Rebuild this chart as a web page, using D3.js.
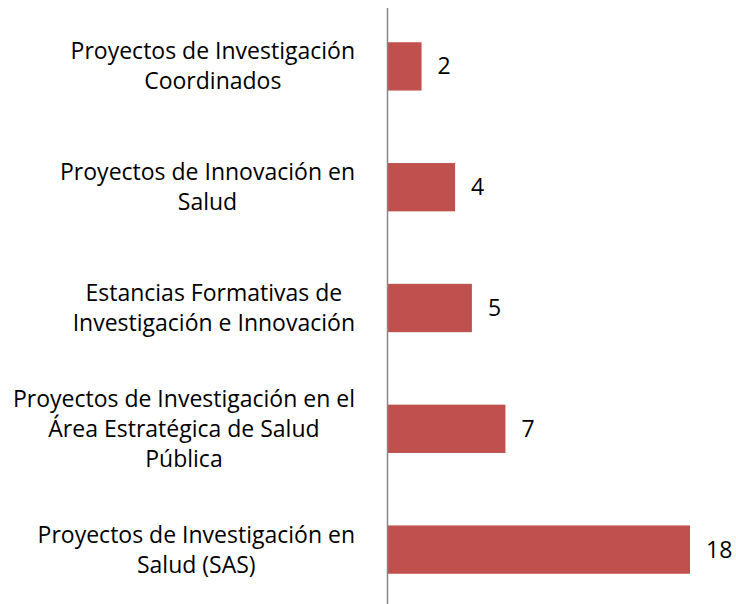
<!DOCTYPE html>
<html><head><meta charset="utf-8">
<script src="https://cdn.jsdelivr.net/npm/d3@7"></script>
<style>html,body{margin:0;padding:0;background:#fff;} svg{display:block;}</style>
</head><body>
<script>
const categories = [
  ["Proyectos de Investigación", "Coordinados"],
  ["Proyectos de Innovación en", "Salud"],
  ["Estancias Formativas de", "Investigación e Innovación"],
  ["Proyectos de Investigación en el", "Área Estratégica de Salud", "Pública"],
  ["Proyectos de Investigación en", "Salud (SAS)"]
];
const values = [2, 4, 5, 7, 18];

const W = 736, H = 604;
const svg = d3.select("body").append("svg").attr("width", W).attr("height", H);
const font = "'Open Sans', sans-serif";
const fs = 23;

const idx = d3.range(values.length);
const y = d3.scaleBand().domain(idx).range([6, 610]).paddingInner(0.6).paddingOuter(0.3);
const x = d3.scaleLinear().domain([0, 18]).range([388, 690]);

svg.selectAll("rect.bar").data(idx).join("rect")
  .attr("x", x(0)).attr("y", i => y(i))
  .attr("width", i => x(values[i]) - x(0)).attr("height", y.bandwidth())
  .attr("fill", "#C0504D");

svg.append("line").attr("x1", 387.5).attr("x2", 387.5).attr("y1", 8).attr("y2", H)
  .attr("stroke", "#868686").attr("stroke-width", 1.5);

svg.selectAll("text.val").data(idx).join("text")
  .attr("x", i => x(values[i]) + 16).attr("y", i => y(i) + y.bandwidth() / 2)
  .attr("dy", "0.35em").attr("font-family", font).attr("font-size", fs).attr("fill", "#000")
  .text(i => values[i]);

const lh = 30, rightEdge = 355;
idx.forEach(i => {
  const lines = categories[i];
  const g = svg.append("g");
  const cy = y(i) + y.bandwidth() / 2;
  const ts = lines.map((t, k) => g.append("text")
    .attr("y", cy + (k - (lines.length - 1) / 2) * lh).attr("dy", "0.35em")
    .attr("font-family", font).attr("font-size", fs).attr("fill", "#000")
    .attr("text-anchor", "middle").text(t));
  const maxW = d3.max(ts, t => t.node().getComputedTextLength());
  ts.forEach(t => t.attr("x", rightEdge - maxW / 2));
});
</script>
</body></html>
